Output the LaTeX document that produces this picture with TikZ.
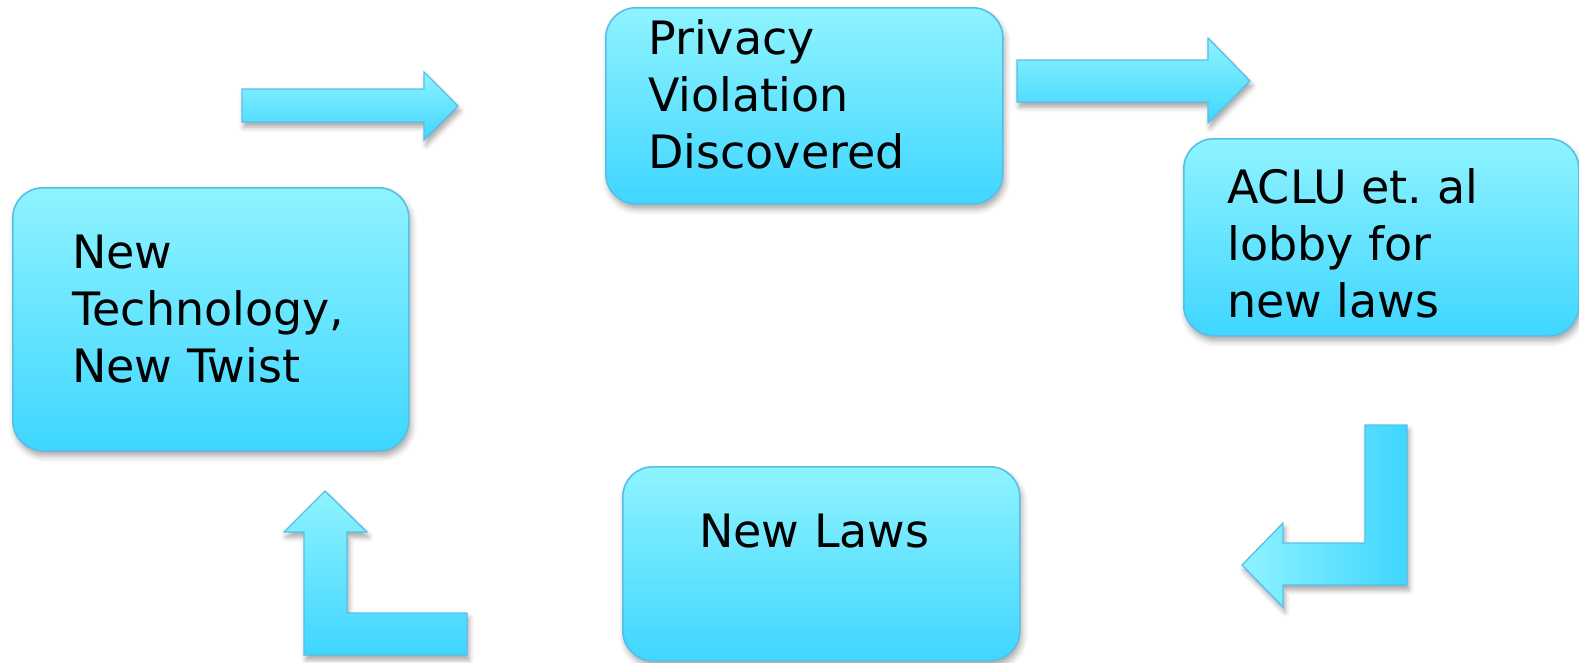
\documentclass[tikz,border=0pt]{standalone}
\usepackage{fontspec}
\setmainfont{DejaVu Sans}
\usetikzlibrary{shadows.blur}
\definecolor{cyanTop}{HTML}{8FF3FF}
\definecolor{cyanBot}{HTML}{3FD6FF}
\definecolor{cyanEdge}{HTML}{56BFE8}
\tikzset{
  stepbox/.style={draw=cyanEdge, line width=1.6pt, rounded corners=30pt,
    rectangle, anchor=north west, inner sep=0pt,
    top color=cyanTop, bottom color=cyanBot,
    blur shadow={shadow xshift=2pt, shadow yshift=-5pt, shadow blur radius=6pt, shadow opacity=35}},
  txt/.style={font=\fontsize{46}{57}\selectfont, align=left, inner sep=0pt, anchor=base west},
  blockarrow/.style={draw=cyanEdge, line width=1.3pt, line join=miter,
    blur shadow={shadow xshift=2pt, shadow yshift=-5pt, shadow blur radius=5pt, shadow opacity=35}},
  vgrad/.style={top color=cyanTop, bottom color=cyanBot},
  hgrad/.style={left color=cyanTop, right color=cyanBot}
}
\begin{document}
\frenchspacing
\begin{tikzpicture}[x=1pt,y=1pt]
\useasboundingbox (0,0) rectangle (1579,-662);
% boxes
\node[stepbox, minimum width=396pt, minimum height=263pt] (boxA) at (12,-187) {};
\node[stepbox, minimum width=397pt, minimum height=196pt] (boxB) at (605,-7) {};
\node[stepbox, minimum width=395pt, minimum height=197pt] (boxC) at (1183,-138) {};
\node[stepbox, minimum width=397pt, minimum height=194pt] (boxD) at (622,-466) {};
% texts
\node[txt] (tA) at (72,-382) {New\\Technology,\\New Twist};
\node[txt] (tB) at (648,-168) {Privacy\\Violation\\Discovered};
\node[txt] (tC) at (1227,-317) {ACLU et. al\\lobby for\\new laws};
\node[txt] (tD) at (699,-547) {New Laws};
% block arrows
\draw[blockarrow, vgrad] (242,-89) -- (424,-89) -- (424,-72) -- (458,-106) -- (424,-140) -- (424,-122) -- (242,-122) -- cycle;
\draw[blockarrow, vgrad] (1017,-60) -- (1208,-60) -- (1208,-38) -- (1250,-81) -- (1208,-123) -- (1208,-102) -- (1017,-102) -- cycle;
\draw[blockarrow, hgrad] (1365,-425) -- (1407,-425) -- (1407,-585) -- (1283,-585) -- (1283,-607) -- (1242,-565) -- (1283,-523) -- (1283,-543) -- (1365,-543) -- cycle;
\draw[blockarrow, vgrad] (325,-491) -- (367,-532) -- (347,-532) -- (347,-613) -- (467,-613) -- (467,-655) -- (304,-655) -- (304,-532) -- (284,-532) -- cycle;
\end{tikzpicture}
\end{document}
